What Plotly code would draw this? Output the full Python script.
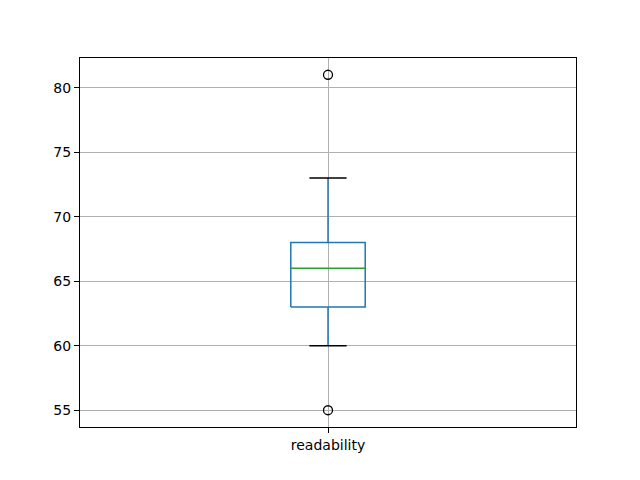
import plotly.graph_objects as go

# Data
categories = ["readability"]
q1 = [63]
median = [66]
q3 = [68]
whisker_low = [60]
whisker_high = [73]
outliers = [[55, 81]]
positions = [1]
box_width = 0.15

fig = go.Figure()
for i, cat in enumerate(categories):
    p = positions[i]
    hw = box_width / 2
    cw = box_width / 4
    # box outline
    fig.add_trace(go.Scatter(
        x=[p - hw, p + hw, p + hw, p - hw, p - hw],
        y=[q1[i], q1[i], q3[i], q3[i], q1[i]],
        mode="lines", line=dict(color="#1f77b4", width=1.5), showlegend=False, hoverinfo="skip"))
    # whiskers
    fig.add_trace(go.Scatter(
        x=[p, p, None, p, p],
        y=[q1[i], whisker_low[i], None, q3[i], whisker_high[i]],
        mode="lines", line=dict(color="#1f77b4", width=1.5), showlegend=False, hoverinfo="skip"))
    # caps
    fig.add_trace(go.Scatter(
        x=[p - cw, p + cw, None, p - cw, p + cw],
        y=[whisker_low[i], whisker_low[i], None, whisker_high[i], whisker_high[i]],
        mode="lines", line=dict(color="black", width=1.5), showlegend=False, hoverinfo="skip"))
    # median
    fig.add_trace(go.Scatter(
        x=[p - hw, p + hw], y=[median[i], median[i]],
        mode="lines", line=dict(color="#2ca02c", width=1.5), showlegend=False, hoverinfo="skip"))
    # outliers
    fig.add_trace(go.Scatter(
        x=[p] * len(outliers[i]), y=outliers[i], mode="markers",
        marker=dict(symbol="circle-open", size=9, color="black", line=dict(width=1.3, color="black")),
        showlegend=False))

axis_common = dict(
    showline=True, linecolor="black", linewidth=1.1, mirror=True,
    ticks="outside", ticklen=5, tickwidth=1.1, tickcolor="black",
    showgrid=True, gridcolor="#b0b0b0", gridwidth=1.1, zeroline=False,
    tickfont=dict(family="DejaVu Sans", size=14, color="black"),
)

fig.update_xaxes(range=[0.5, 1.5], tickvals=positions, ticktext=categories, **axis_common)
fig.update_yaxes(range=[53.7, 82.3], tickvals=[55, 60, 65, 70, 75, 80], **axis_common)

fig.update_layout(
    width=624, height=464,
    margin=dict(l=72, r=56, t=50, b=45),
    paper_bgcolor="white", plot_bgcolor="white",
    font=dict(family="DejaVu Sans", size=14, color="black"),
)

fig.write_html("out.html")
